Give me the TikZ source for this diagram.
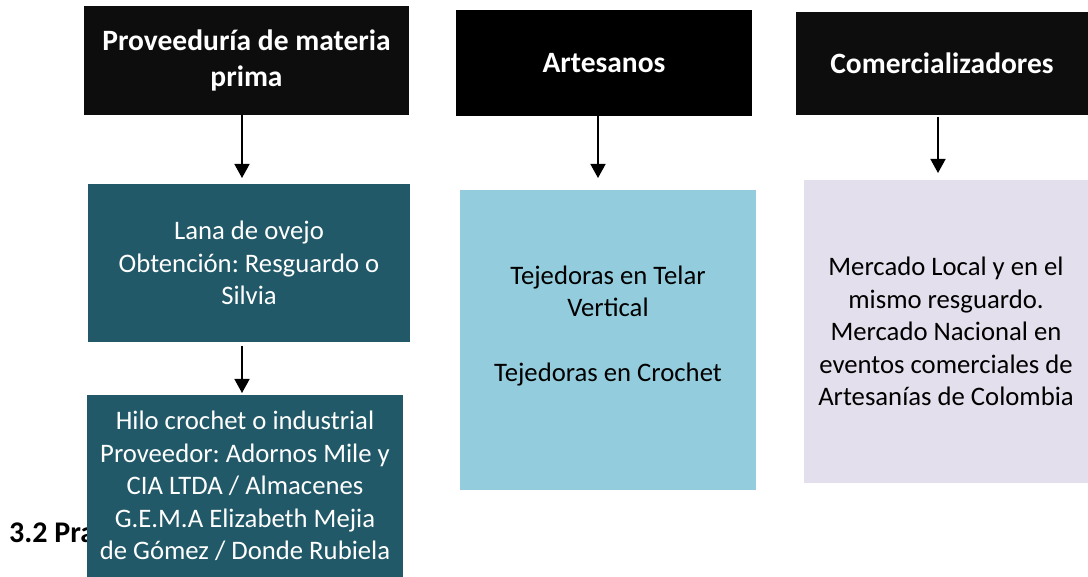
\documentclass[tikz,border=0pt]{standalone}
\usepackage{fontspec}
\setmainfont{Carlito}
\usetikzlibrary{arrows.meta}
\definecolor{tealbox}{HTML}{215968}
\definecolor{bluebox}{HTML}{93CDDD}
\definecolor{lavbox}{HTML}{E4DFEC}
\definecolor{titlebk}{HTML}{0D0D0D}
\begin{document}
\frenchspacing
\begin{tikzpicture}[x=1pt,y=-1pt,
  box/.style={inner sep=0pt, outer sep=0pt, align=center, anchor=north west},
  titlebox/.style={box, fill=titlebk, text=white, font=\fontsize{29.5}{35.5}\selectfont\bfseries},
  bodybox/.style={box, font=\fontsize{26.7}{32.5}\selectfont},
  arr/.style={-{Triangle[width=15pt,length=14pt]}, line width=1.6pt}]
\useasboundingbox (0,0) rectangle (1088,577);
\fill[white] (0,0) rectangle (1088,577);

\node[anchor=base west, inner sep=0pt, font=\fontsize{30}{36}\selectfont\bfseries] (h) at (9,542) {3.2 Pra};

\node[titlebox, minimum width=325pt, minimum height=109pt] (t1) at (84,6) {Proveeduría de materia\\prima};
\node[titlebox, fill=black, minimum width=296pt, minimum height=106pt] (t2) at (456,10) {Artesanos};
\node[titlebox, minimum width=292pt, minimum height=103pt] (t3) at (796,12) {Comercializadores};

\node[bodybox, fill=tealbox, text=white, minimum width=322pt, minimum height=158pt] (m1) at (88,184) {Lana de ovejo\\Obtención: Resguardo o\\Silvia};
\node[bodybox, fill=tealbox, text=white, minimum width=316pt, minimum height=182pt] (m2) at (87,395) {Hilo crochet o industrial\\Proveedor: Adornos Mile y\\CIA LTDA / Almacenes\\G.E.M.A Elizabeth Mejia\\de Gómez / Donde Rubiela};
\node[bodybox, fill=bluebox, text=black, minimum width=296pt, minimum height=300pt] (b1) at (460,190) {Tejedoras en Telar\\Vertical\\\mbox{}\\Tejedoras en Crochet\\\mbox{}};
\node[bodybox, fill=lavbox, text=black, minimum width=284pt, minimum height=303pt] (l1) at (804,180) {Mercado Local y en el\\mismo resguardo.\\Mercado Nacional en\\eventos comerciales de\\Artesanías de Colombia};

\coordinate (x1) at (242,0);
\coordinate (x2) at (598,0);
\coordinate (x3) at (938,0);
\draw[arr, shorten >=6pt] (t1.south -| x1) -- (m1.north -| x1);
\draw[arr, shorten <=4pt, shorten >=2pt] (m1.south -| x1) -- (m2.north -| x1);
\draw[arr, shorten >=12pt] (t2.south -| x2) -- (b1.north -| x2);
\draw[arr, shorten <=2pt, shorten >=7pt] (t3.south -| x3) -- (l1.north -| x3);
\end{tikzpicture}
\end{document}
